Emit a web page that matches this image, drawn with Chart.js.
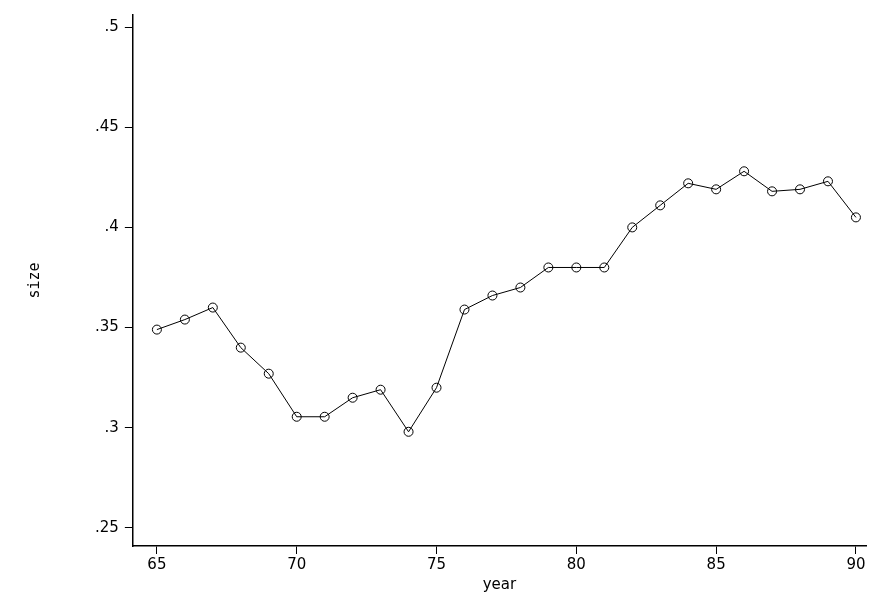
<!DOCTYPE html>
<html><head><meta charset="utf-8">
<script src="https://cdn.jsdelivr.net/npm/chart.js@4"></script>
<style>html,body{margin:0;background:#fff}#w{width:872px;height:604px}</style>
</head><body><div id="w"><canvas id="c"></canvas></div>
<script>
const years=[65,66,67,68,69,70,71,72,73,74,75,76,77,78,79,80,81,82,83,84,85,86,87,88,89,90];
const size=[.349,.354,.360,.340,.327,.3055,.3055,.315,.319,.298,.320,.359,.366,.370,.380,.380,.380,.400,.411,.422,.419,.428,.418,.419,.423,.405];
const xTicks=[65,70,75,80,85,90];
const yTicks=[.25,.3,.35,.4,.45,.5];
const lbl=v=>String(v).replace(/^0/,'');
new Chart(document.getElementById('c'),{type:'line',
data:{datasets:[{data:years.map((y,i)=>({x:y,y:size[i]})),borderColor:'#000',borderWidth:1,pointRadius:4.5,pointBorderColor:'#000',pointBackgroundColor:'rgba(0,0,0,0)',pointBorderWidth:1,tension:0}]},
options:{responsive:true,maintainAspectRatio:false,animation:false,
layout:{padding:{left:22,right:6,top:10,bottom:6}},
plugins:{legend:{display:false},tooltip:{enabled:false}},
scales:{
x:{type:'linear',min:64.14,max:90.36,afterBuildTicks:a=>{a.ticks=xTicks.map(v=>({value:v}))},
 grid:{display:true,drawOnChartArea:false,drawTicks:true,tickLength:8,color:'#000'},border:{color:'#000',width:1.5},
 ticks:{color:'#000',font:{family:'DejaVu Sans',size:15},autoSkip:false,maxRotation:0,padding:2},
 title:{display:true,text:'year',color:'#000',font:{family:'DejaVu Sans',size:15},padding:{top:0}}},
y:{type:'linear',min:.241,max:.506,afterBuildTicks:a=>{a.ticks=yTicks.map(v=>({value:v}))},
 grid:{display:true,drawOnChartArea:false,drawTicks:true,tickLength:8,color:'#000'},border:{color:'#000',width:1.5},
 ticks:{color:'#000',font:{family:'DejaVu Sans',size:15},callback:v=>lbl(v),padding:6},
 title:{display:true,text:'size',color:'#000',font:{family:'DejaVu Sans Mono',size:15},padding:{bottom:45}}}
}}});
</script></body></html>
